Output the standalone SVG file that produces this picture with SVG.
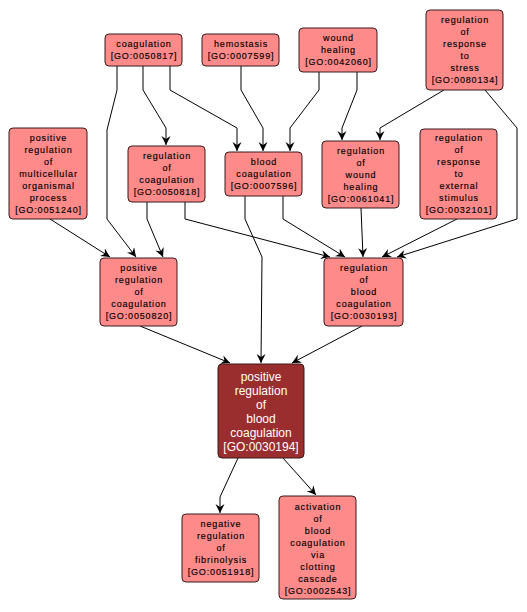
<svg xmlns="http://www.w3.org/2000/svg" width="527" height="612" viewBox="0 0 527 612">
<style>
.box{fill:#ff8a8a;stroke:#3a1a1a;stroke-width:1}
.dark{fill:#9a2d2d;stroke:#3a1a1a;stroke-width:1}
.t{font-family:"Liberation Sans",Arial,sans-serif;font-size:9px;letter-spacing:0.85px;fill:#000;stroke:#000;stroke-width:0.15px;text-anchor:middle}
.td{font-family:"Liberation Sans",Arial,sans-serif;font-size:12px;fill:#fff;text-anchor:middle}
.e{fill:none;stroke:#000;stroke-width:1}
</style>
<defs>
<marker id="ar" markerUnits="userSpaceOnUse" markerWidth="11" markerHeight="11" refX="9" refY="4.5" orient="auto">
<path d="M0,0 L9,4.5 L0,9 L3,4.5 z" fill="#000"/>
</marker>
</defs>
<rect width="527" height="612" fill="#fff"/>
<g id="edges">
<polyline class="e" marker-end="url(#ar)" points="117,66 117,90 107,130 107,219 136,257"/>
<polyline class="e" marker-end="url(#ar)" points="143,66 143,90 166,128 166,145"/>
<polyline class="e" marker-end="url(#ar)" points="170,66 170,90 237,128 237,151"/>
<polyline class="e" marker-end="url(#ar)" points="241,66 241,90 263,128 263,151"/>
<polyline class="e" marker-end="url(#ar)" points="319,72 319,90 290,128 290,151"/>
<polyline class="e" marker-end="url(#ar)" points="357,72 357,90 342,128 342,140"/>
<polyline class="e" marker-end="url(#ar)" points="444,90 380,128 380,140"/>
<polyline class="e" marker-end="url(#ar)" points="485,90 517,128 517,219 397,257"/>
<polyline class="e" marker-end="url(#ar)" points="50,219 110,257"/>
<polyline class="e" marker-end="url(#ar)" points="147,202 147,219 163,257"/>
<polyline class="e" marker-end="url(#ar)" points="185,202 185,219 330,257"/>
<polyline class="e" marker-end="url(#ar)" points="245,196 245,219 262,257 261,363"/>
<polyline class="e" marker-end="url(#ar)" points="283,196 283,219 345,257"/>
<polyline class="e" marker-end="url(#ar)" points="361,208 363,257"/>
<polyline class="e" marker-end="url(#ar)" points="457,219 382,257"/>
<polyline class="e" marker-end="url(#ar)" points="140,326 230,363"/>
<polyline class="e" marker-end="url(#ar)" points="362,326 292,363"/>
<polyline class="e" marker-end="url(#ar)" points="238,458 220,497 220,513"/>
<polyline class="e" marker-end="url(#ar)" points="283,458 316,495"/>
</g>
<g id="GO0050817"><rect class="box" x="105" y="34" width="77" height="32" rx="4"/>
<text class="t" x="144" y="47">coagulation</text><text class="t" x="144" y="59">[GO:0050817]</text></g>
<g id="GO0007599"><rect class="box" x="202" y="34" width="77" height="32" rx="4"/>
<text class="t" x="241" y="47">hemostasis</text><text class="t" x="241" y="59">[GO:0007599]</text></g>
<g id="GO0042060"><rect class="box" x="299" y="28" width="78" height="44" rx="4"/>
<text class="t" x="338.5" y="41">wound</text><text class="t" x="338.5" y="53">healing</text><text class="t" x="338.5" y="65">[GO:0042060]</text></g>
<g id="GO0080134"><rect class="box" x="426" y="10" width="77" height="80" rx="4"/>
<text class="t" x="465" y="23">regulation</text><text class="t" x="465" y="35">of</text><text class="t" x="465" y="47">response</text><text class="t" x="465" y="59">to</text><text class="t" x="465" y="71">stress</text><text class="t" x="465" y="83">[GO:0080134]</text></g>
<g id="GO0051240"><rect class="box" x="9" y="128" width="78" height="91" rx="4"/>
<text class="t" x="48.5" y="140.5">positive</text><text class="t" x="48.5" y="152.5">regulation</text><text class="t" x="48.5" y="164.5">of</text><text class="t" x="48.5" y="176.5">multicellular</text><text class="t" x="48.5" y="188.5">organismal</text><text class="t" x="48.5" y="200.5">process</text><text class="t" x="48.5" y="212.5">[GO:0051240]</text></g>
<g id="GO0050818"><rect class="box" x="128" y="146" width="77" height="56" rx="4"/>
<text class="t" x="167" y="159">regulation</text><text class="t" x="167" y="171">of</text><text class="t" x="167" y="183">coagulation</text><text class="t" x="167" y="195">[GO:0050818]</text></g>
<g id="GO0007596"><rect class="box" x="225" y="152" width="77" height="44" rx="4"/>
<text class="t" x="264" y="165">blood</text><text class="t" x="264" y="177">coagulation</text><text class="t" x="264" y="189">[GO:0007596]</text></g>
<g id="GO0061041"><rect class="box" x="322" y="141" width="77" height="67" rx="4"/>
<text class="t" x="361" y="153.5">regulation</text><text class="t" x="361" y="165.5">of</text><text class="t" x="361" y="177.5">wound</text><text class="t" x="361" y="189.5">healing</text><text class="t" x="361" y="201.5">[GO:0061041]</text></g>
<g id="GO0032101"><rect class="box" x="420" y="129" width="77" height="90" rx="4"/>
<text class="t" x="459" y="141">regulation</text><text class="t" x="459" y="153">of</text><text class="t" x="459" y="165">response</text><text class="t" x="459" y="177">to</text><text class="t" x="459" y="189">external</text><text class="t" x="459" y="201">stimulus</text><text class="t" x="459" y="213">[GO:0032101]</text></g>
<g id="GO0050820"><rect class="box" x="100" y="258" width="77" height="68" rx="4"/>
<text class="t" x="139" y="271">positive</text><text class="t" x="139" y="283">regulation</text><text class="t" x="139" y="295">of</text><text class="t" x="139" y="307">coagulation</text><text class="t" x="139" y="319">[GO:0050820]</text></g>
<g id="GO0030193"><rect class="box" x="324" y="258" width="79" height="68" rx="4"/>
<text class="t" x="364" y="271">regulation</text><text class="t" x="364" y="283">of</text><text class="t" x="364" y="295">blood</text><text class="t" x="364" y="307">coagulation</text><text class="t" x="364" y="319">[GO:0030193]</text></g>
<g id="GO0030194"><rect class="dark" x="218" y="364" width="86" height="94" rx="4"/>
<text class="td" x="261" y="381">positive</text><text class="td" x="261" y="395">regulation</text><text class="td" x="261" y="409">of</text><text class="td" x="261" y="423">blood</text><text class="td" x="261" y="437">coagulation</text><text class="td" x="261" y="451">[GO:0030194]</text></g>
<g id="GO0051918"><rect class="box" x="182" y="514" width="77" height="68" rx="4"/>
<text class="t" x="221" y="527">negative</text><text class="t" x="221" y="539">regulation</text><text class="t" x="221" y="551">of</text><text class="t" x="221" y="563">fibrinolysis</text><text class="t" x="221" y="575">[GO:0051918]</text></g>
<g id="GO0002543"><rect class="box" x="279" y="496" width="77" height="103" rx="4"/>
<text class="t" x="318" y="510">activation</text><text class="t" x="318" y="522">of</text><text class="t" x="318" y="534">blood</text><text class="t" x="318" y="546">coagulation</text><text class="t" x="318" y="558">via</text><text class="t" x="318" y="570">clotting</text><text class="t" x="318" y="582">cascade</text><text class="t" x="318" y="594">[GO:0002543]</text></g>
</svg>
